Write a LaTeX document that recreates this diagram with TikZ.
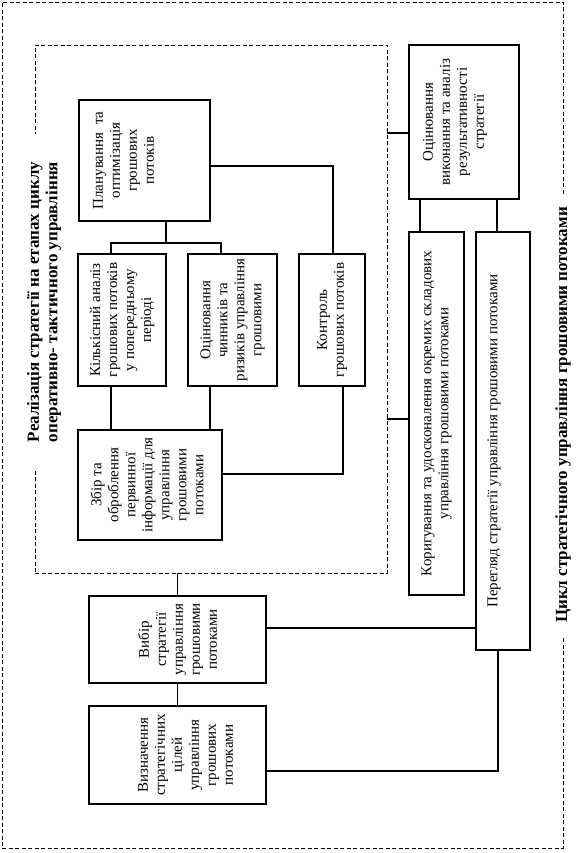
\documentclass[tikz,border=0pt]{standalone}
\usepackage{fontspec}
\setmainfont{Liberation Serif}
\usetikzlibrary{fit}
\tikzset{
  every picture/.style={line width=1pt},
  box/.style={draw, line width=1.2pt, inner sep=0pt},
  txt/.style={rotate=90, align=center, inner sep=0pt, font=\fontsize{15}{17}\selectfont},
  frame/.style={draw, dash pattern=on 4pt off 2.5pt, line width=0.9pt, inner sep=0pt},
  head/.style={rotate=90, align=center, fill=white, inner ysep=1pt, font=\fontsize{17}{18.5}\selectfont\bfseries},
  link/.style={line width=1.2pt},
}

\begin{document}
\begin{tikzpicture}[x=1pt, y=-1pt]
  \useasboundingbox (0,0) rectangle (586,853);
  % dashed frames of the two cycles
  \node[frame, fit={(2,2) (563,848)}] (cycle) {};
  \node[frame, fit={(35,45) (387,573)}] (oper) {};
  \node[head, inner xsep=13pt] (cycle-t) at (563,415) {Цикл стратегічного управління грошовими потоками};
  \node[head, inner xsep=28pt] (oper-t) at (44,302) {Реалізація стратегії на етапах циклу\\оперативно- тактичного управління};

  % boxes: frame, then its text
  \node[box, minimum width=131, minimum height=121] (plan) at (144.5,160.5) {};
  \node[txt] (plan-t) at ([xshift=-21]plan.center) {Планування~ та\\оптимізація\\грошових\\потоків};
  \node[box, minimum width=88, minimum height=132] (anal) at (122,320) {};
  \node[txt] (anal-t) at (anal) {Кількісний аналіз\\грошових потоків\\у попередньому\\періоді};
  \node[box, minimum width=89, minimum height=132] (risk) at (232.5,320) {};
  \node[txt] (risk-t) at (risk) {Оцінювання\\чинників та\\ризиків управління\\грошовими};
  \node[box, minimum width=66, minimum height=132] (ctrl) at (332,320) {};
  \node[txt] (ctrl-t) at (ctrl) {Контроль\\грошових потоків};
  \node[box, minimum width=144, minimum height=110] (info) at (150,485) {};
  \node[txt] (info-t) at ([xshift=-3]info.center) {Збір та\\оброблення\\первинної\\інформації для\\управління\\грошовими\\потоками};
  \node[box, minimum width=177, minimum height=87] (choice) at (177.5,639.5) {};
  \node[txt] (choice-t) at (choice) {Вибір\\стратегії\\управління\\грошовими\\потоками};
  \node[box, minimum width=177, minimum height=98] (goals) at (177.5,755) {};
  \node[txt] (goals-t) at ([xshift=8]goals.center) {Визначення\\стратегічних\\цілей\\управління\\грошових\\потоками};
  \node[box, minimum width=110, minimum height=154] (eval) at (464,122) {};
  \node[txt] (eval-t) at ([xshift=-9]eval.center) {Оцінювання\\виконання та аналіз\\результативності\\стратегії};
  \node[box, minimum width=55, minimum height=363] (fix) at (436.5,413.5) {};
  \node[txt] (fix-t) at (fix) {Коригування та удосконалення окремих складових\\управління грошовими потоками};
  \node[box, minimum width=54, minimum height=418] (review) at (503,441) {};
  \node[txt] (review-t) at ([xshift=-9]review.center) {Перегляд стратегії управління грошовими потоками};

  % links inside the operative cycle
  \coordinate (fork) at (166,243);
  \coordinate (fork-l) at (111,243);
  \coordinate (fork-r) at (221,243);
  \draw[link] (fork |- plan.south) -- (fork);
  \draw[link] (fork-l |- anal.north) -- (fork-l) -- (fork-r) -- (fork-r |- risk.north);
  \coordinate (tap) at (333,166);
  \draw[link] (plan.east |- tap) -- (tap) -- (tap |- ctrl.north);
  \draw[link] (fork-l |- anal.south) -- (fork-l |- info.north);
  \coordinate (col) at (210,408);
  \draw[link] (col |- risk.south) -- (col |- info.north);
  \coordinate (back) at (343,474);
  \draw[link] (back |- ctrl.south) -- (back) -- (info.east |- back);

  % links of the strategic cycle
  \draw[link] (oper.south -| choice.north) -- (choice.north);
  \draw[link] (choice.south) -- (goals.north);
  \coordinate (r1) at (400,628);
  \draw[link] (choice.east |- r1) -- (review.west |- r1);
  \coordinate (r2) at (498,771);
  \draw[link] (goals.east |- r2) -- (r2) -- (r2 |- review.south);
  \coordinate (e1) at (398,133);
  \draw[link] (oper.east |- e1) -- (eval.west |- e1);
  \coordinate (e2) at (398,419);
  \draw[link] (oper.east |- e2) -- (fix.west |- e2);
  \coordinate (e3) at (420,215);
  \draw[link] (e3 |- eval.south) -- (e3 |- fix.north);
  \coordinate (e4) at (497,215);
  \draw[link] (e4 |- eval.south) -- (e4 |- review.north);
\end{tikzpicture}
\end{document}
